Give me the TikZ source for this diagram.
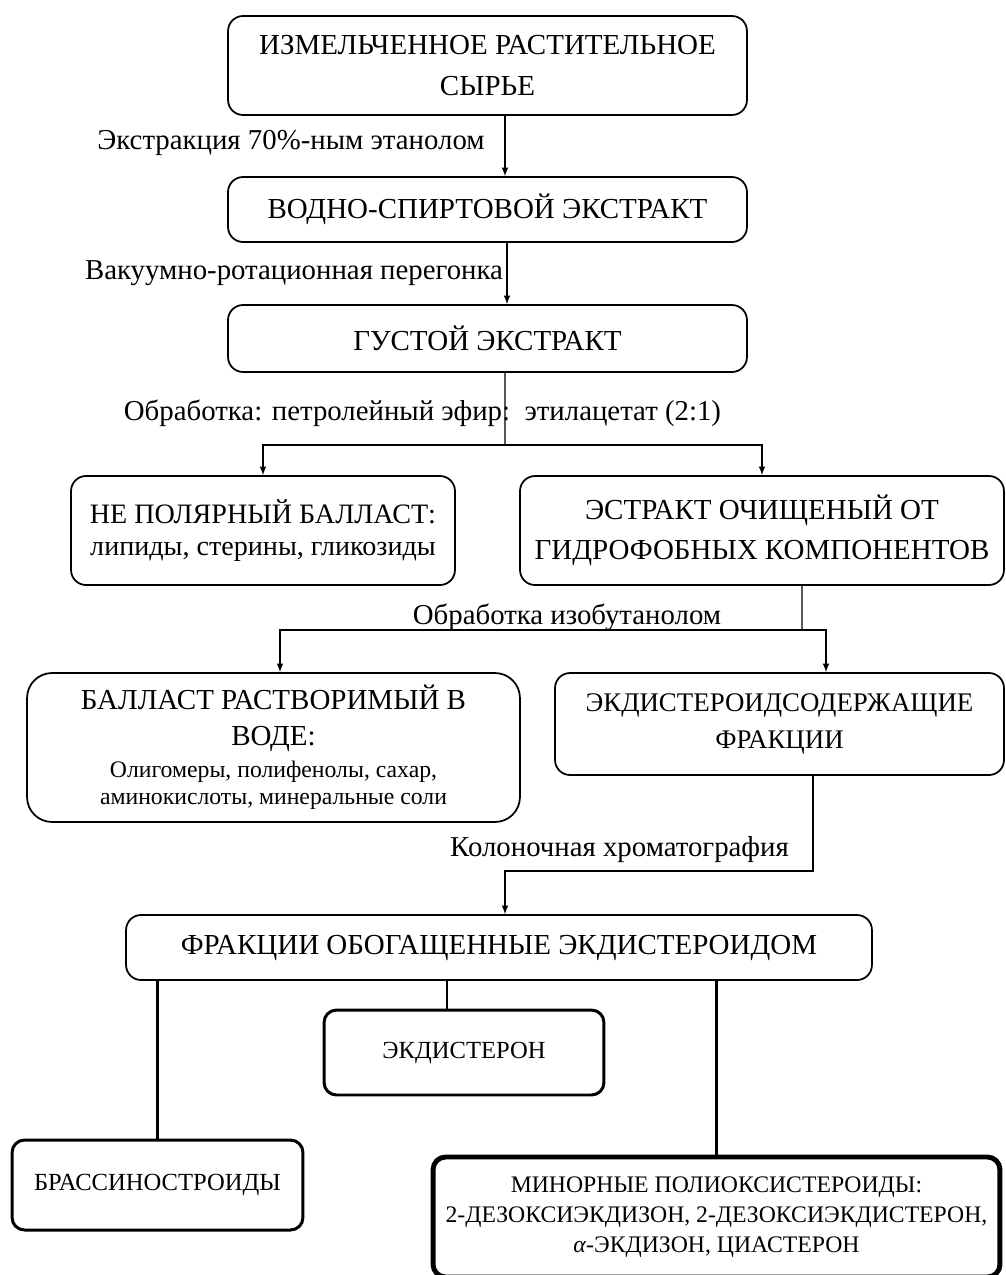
\documentclass[tikz,border=0pt]{standalone}
\usepackage{fontspec}
\setmainfont{Liberation Serif}
\usetikzlibrary{positioning, arrows}

\begin{document}
\begin{tikzpicture}[
        x=0.02cm, y=-0.02cm,
        stage/.style = {draw, rounded corners=0.3cm, line width=1pt, align=center, inner sep=2pt, font=\fontsize{16.5}{23}\selectfont},
        product/.style = {stage, line width=1.7pt, rounded corners=0.25cm, font=\fontsize{14}{17}\selectfont},
        note/.style = {inner sep=0pt, font=\fontsize{16.4}{19}\selectfont},
        flow/.style = {->, >=latex, line width=0.7pt},
        branch/.style = {line width=1.4pt},
        stem/.style = {line width=1.5pt},
        ]
        \useasboundingbox (0,0) rectangle (1006,1275);

        \node[stage, minimum width=10.38cm, minimum height=1.98cm] (raw) at (487.5,65.5) {ИЗМЕЛЬЧЕННОЕ РАСТИТЕЛЬНОЕ\\ СЫРЬЕ};
        \node[stage, minimum width=10.38cm, minimum height=1.3cm] (extract) at (487.5,209.5) {ВОДНО-СПИРТОВОЙ ЭКСТРАКТ};
        \node[stage, minimum width=10.38cm, minimum height=1.34cm] (thick) at (487.5,338.5) {ГУСТОЙ ЭКСТРАКТ};
        \node[stage, minimum width=7.68cm, minimum height=2.18cm, font=\fontsize{16}{18.2}\selectfont] (nonpolar) at (263,530.5) {НЕ ПОЛЯРНЫЙ БАЛЛАСТ:\\ липиды, стерины, гликозиды};
        \node[stage, minimum width=9.68cm, minimum height=2.18cm] (purified) at (762,530.5) {ЭСТРАКТ ОЧИЩЕНЫЙ ОТ\\ ГИДРОФОБНЫХ КОМПОНЕНТОВ};
        \node[stage, minimum width=9.86cm, minimum height=2.98cm, rounded corners=0.5cm, font=\fontsize{16.5}{20.5}\selectfont] (ballast) at (273.5,747.5) {БАЛЛАСТ РАСТВОРИМЫЙ В\\ ВОДЕ:\\[-2.3pt] \fontsize{13.5}{18.8}\selectfont Олигомеры, полифенолы, сахар,\\[-5pt] \fontsize{13.5}{15.4}\selectfont аминокислоты, минеральные соли};
        \node[stage, minimum width=8.98cm, minimum height=2.04cm, font=\fontsize{15.3}{21}\selectfont] (ecdyfrac) at (779.5,724) {ЭКДИСТЕРОИДСОДЕРЖАЩИЕ\\ ФРАКЦИИ};
        \node[stage, minimum width=14.92cm, minimum height=1.3cm] (enriched) at (499,947.5) {ФРАКЦИИ ОБОГАЩЕННЫЕ ЭКДИСТЕРОИДОМ};
        \node[product, minimum width=5.82cm, minimum height=1.8cm] (brass) at (157.5,1185) {БРАССИНОСТРОИДЫ};
        \node[product, minimum width=5.6cm, minimum height=1.7cm] (ecdysterone) at (464,1052.5) {ЭКДИСТЕРОН};
        \node[product, minimum width=11.34cm, minimum height=2.4cm, line width=2.8pt, font=\fontsize{13.5}{17}\selectfont] (minor) at (716.5,1217) {МИНОРНЫЕ ПОЛИОКСИСТЕРОИДЫ:\\ 2-ДЕЗОКСИЭКДИЗОН, 2-ДЕЗОКСИЭКДИСТЕРОН,\\ \textit{α}-ЭКДИЗОН, ЦИАСТЕРОН};

        % process steps
        \node[note] (step1) at (291,143) {Экстракция 70\%-ным этанолом};
        \node[note] (step2) at (294,273) {Вакуумно-ротационная перегонка};
        \node[note] (step3) at (422.5,413) {Обработка: петролейный эфир:~~этилацетат (2:1)};
        \node[note] (step4) at (567,617) {Обработка изобутанолом};
        \node[note] (step5) at (619.5,850) {Колоночная хроматография};

        \draw[flow] ([xshift=0.35cm]raw.south) -- ([xshift=0.35cm]extract.north);
        \draw[flow] ([xshift=0.39cm]extract.south) -- ([xshift=0.39cm]thick.north);

        \coordinate (split1) at (505,445);
        \draw[line width=0.7pt] ([xshift=0.35cm]thick.south) -- (split1);
        \draw[flow] (split1) -| (nonpolar);
        \draw[flow] (split1) -| (purified);
        \draw[branch] (split1 -| nonpolar) -- (split1 -| purified);

        \coordinate (split2) at (802,630);
        \draw[line width=0.7pt] ([xshift=0.8cm]purified.south) -- (split2);
        \draw[flow] (split2) -| ([xshift=0.13cm]ballast.north);
        \draw[flow] (split2) -| ([xshift=0.93cm]ecdyfrac.north);
        \draw[line width=1.1pt] (split2 -| ballast.north) ++(0.13cm,0) -- ([xshift=0.93cm]ecdyfrac.north |- split2);

        \coordinate (bend) at (505,871);
        \draw[flow] ([xshift=0.67cm]ecdyfrac.south) |- (bend) -- (bend |- enriched.north);

        \coordinate (midstem) at ([xshift=-0.34cm]ecdysterone.north);
        \draw[stem] (brass.north |- enriched.south) -- (brass.north);
        \draw[stem, line width=1.2pt] (midstem |- enriched.south) -- (midstem);
        \draw[stem, line width=1.8pt] (minor.north |- enriched.south) -- (minor.north);
\end{tikzpicture}
\end{document}
